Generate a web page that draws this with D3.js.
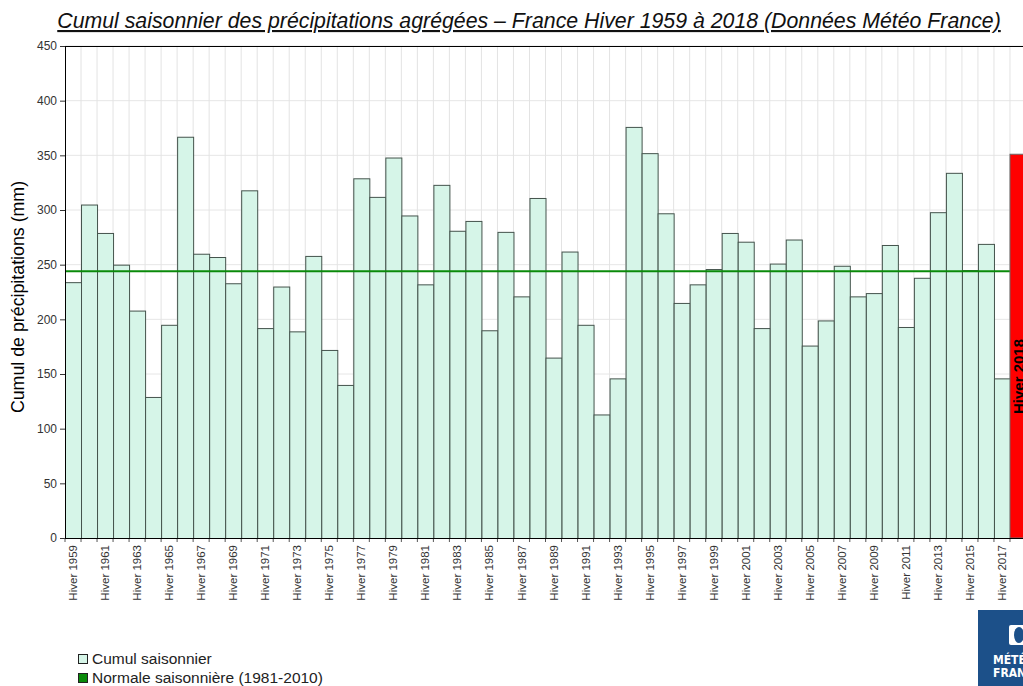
<!DOCTYPE html>
<html><head><meta charset="utf-8">
<script src="https://cdn.jsdelivr.net/npm/d3@7/dist/d3.min.js"></script>
<style>
html,body{margin:0;padding:0;background:#fff;overflow:hidden}
svg{display:block;font-family:"Liberation Sans",Arial,sans-serif}
</style></head>
<body>
<svg id="chart" width="1023" height="686"></svg>
<script>
// ---- data ----
const years = d3.range(1959, 2019).map(y => "Hiver " + y);
const cumul = [234,305,279,250,208,129,195,367,260,257,233,318,192,230,189,258,172,140,329,312,
  348,295,232,323,281,290,190,280,221,311,165,262,195,113,146,376,352,297,215,232,
  246,279,271,192,251,273,176,199,249,221,224,268,193,238,298,334,245,269,146];
const hiver2018 = 351;
const normale = 244;
const yTicks = [0,50,100,150,200,250,300,350,400,450];
const xLabelYears = d3.range(1959, 2018, 2).map(y => "Hiver " + y);
const title = "Cumul saisonnier des précipitations agrégées – France Hiver 1959 à 2018 (Données Météo France)";
const yTitle = "Cumul de précipitations (mm)";
const legendItems = [{label:"Cumul saisonnier", color:"#d6f5e8"},{label:"Normale saisonnière (1981-2010)", color:"#0a8a0a"}];

const svg = d3.select("#chart");
const x = d3.scaleBand().domain(years).range([65, 1026]).padding(0);
const y = d3.scaleLinear().domain([0, 450]).range([538, 46]);

// grid
const grid = svg.append("g");
grid.selectAll(".hg").data(yTicks).join("line")
  .attr("x1", 65).attr("x2", 1023).attr("y1", d => y(d)).attr("y2", d => y(d))
  .attr("stroke", "#e6e6e6").attr("stroke-width", 1);
grid.selectAll(".vg").data(years.slice(1)).join("line")
  .attr("x1", d => x(d)).attr("x2", d => x(d)).attr("y1", y(450)).attr("y2", y(0))
  .attr("stroke", "#e3e3e3").attr("stroke-width", 1);

// bars
const barsData = years.slice(0, cumul.length).map((k, i) => ({k, v: cumul[i]}));
svg.append("g").selectAll("rect").data(barsData).join("rect")
  .attr("x", d => x(d.k) + 0.5).attr("y", d => y(d.v) + 0.5)
  .attr("width", x.bandwidth()).attr("height", d => y(0) - y(d.v))
  .attr("fill", "#d6f5e8").attr("stroke", "#44534c").attr("stroke-width", 1);

// normal line
svg.append("line")
  .attr("x1", 65).attr("x2", x("Hiver 2018")).attr("y1", y(normale)).attr("y2", y(normale))
  .attr("stroke", "#0a8a0a").attr("stroke-width", 2.2);

// 2018 red bar
svg.append("rect")
  .attr("x", x("Hiver 2018")).attr("y", y(hiver2018))
  .attr("width", x.bandwidth()).attr("height", y(0) - y(hiver2018))
  .attr("fill", "#ff0000").attr("stroke", "#6a6a6a").attr("stroke-width", 1);
svg.append("text")
  .attr("transform", `translate(${x("Hiver 2018") + x.bandwidth()/2 + 6},${y(0) - 124}) rotate(-90)`)
  .attr("text-anchor", "start").attr("font-size", 15).attr("font-weight", "bold").attr("fill", "#000")
  .text("Hiver 2018");

// axes
const yAxis = d3.axisLeft(y).tickValues(yTicks).tickSize(5).tickPadding(3);
const gy = svg.append("g").attr("transform", "translate(65,0)").call(yAxis);
gy.select(".domain").attr("stroke", "#000");
gy.selectAll(".tick line").attr("stroke", "#333");
gy.selectAll(".tick text").attr("font-size", 12).attr("fill", "#333").attr("font-family", "Liberation Sans, Arial, sans-serif");

const xAxis = d3.axisBottom(x).tickValues(xLabelYears).tickSize(0).tickPadding(0);
const gx = svg.append("g").attr("transform", "translate(0,538)").call(xAxis);
gx.select(".domain").remove();
gx.selectAll(".tick text")
  .attr("font-size", 11.5).attr("fill", "#333").attr("font-family", "Liberation Sans, Arial, sans-serif")
  .attr("text-anchor", "end").attr("transform", "rotate(-90)")
  .attr("x", -7).attr("y", 0).attr("dy", "0.35em").attr("dx", 0);
// small ticks at band boundaries
svg.append("g").selectAll("line").data(years).join("line")
  .attr("x1", d => x(d)).attr("x2", d => x(d)).attr("y1", 538).attr("y2", 542)
  .attr("stroke", "#555");
svg.append("line").attr("x1", 65).attr("x2", 1023).attr("y1", 538.5).attr("y2", 538.5).attr("stroke", "#000");
svg.append("line").attr("x1", 65).attr("x2", 1023).attr("y1", 46.5).attr("y2", 46.5).attr("stroke", "#000");

// titles
const t = svg.append("text").attr("x", 529).attr("y", 28).attr("text-anchor", "middle")
  .attr("font-size", 19).attr("font-style", "italic").attr("fill", "#111")
  .style("text-decoration", "underline").text(title);
const tl = t.node().getComputedTextLength();
t.attr("font-size", 19 * 944 / tl);

svg.append("text")
  .attr("transform", "translate(24,297) rotate(-90)").attr("text-anchor", "middle")
  .attr("font-size", 17.8).attr("fill", "#000").text(yTitle);

// legend
const lg = svg.append("g").selectAll("g").data(legendItems).join("g")
  .attr("transform", (d, i) => `translate(78,${654 + i * 19})`);
lg.append("rect").attr("x", 0.5).attr("y", 0.5).attr("width", 9).attr("height", 9)
  .attr("fill", d => d.color).attr("stroke", "#222");
lg.append("text").attr("x", 14).attr("y", 10).attr("font-size", 15.5).attr("fill", "#222").text(d => d.label);

// logo
const logo = svg.append("g");
logo.append("rect").attr("x", 978).attr("y", 610).attr("width", 50).attr("height", 76).attr("fill", "#1c5089");
logo.append("rect").attr("x", 1009).attr("y", 625).attr("width", 16).attr("height", 20).attr("rx", 2).attr("fill", "#fff");
logo.append("ellipse").attr("cx", 1019).attr("cy", 635).attr("rx", 5).attr("ry", 8).attr("fill", "#1c5089");
logo.append("text").attr("x", 993).attr("y", 664).attr("font-size", 12).attr("font-weight", "bold").attr("fill", "#fff")
  .attr("font-family", "DejaVu Sans Condensed, Liberation Sans Narrow, sans-serif").text("MÉTÉO");
logo.append("text").attr("x", 993).attr("y", 677).attr("font-size", 12).attr("font-weight", "bold").attr("fill", "#fff")
  .attr("font-family", "DejaVu Sans Condensed, Liberation Sans Narrow, sans-serif").text("FRANCE");
</script>
</body></html>
